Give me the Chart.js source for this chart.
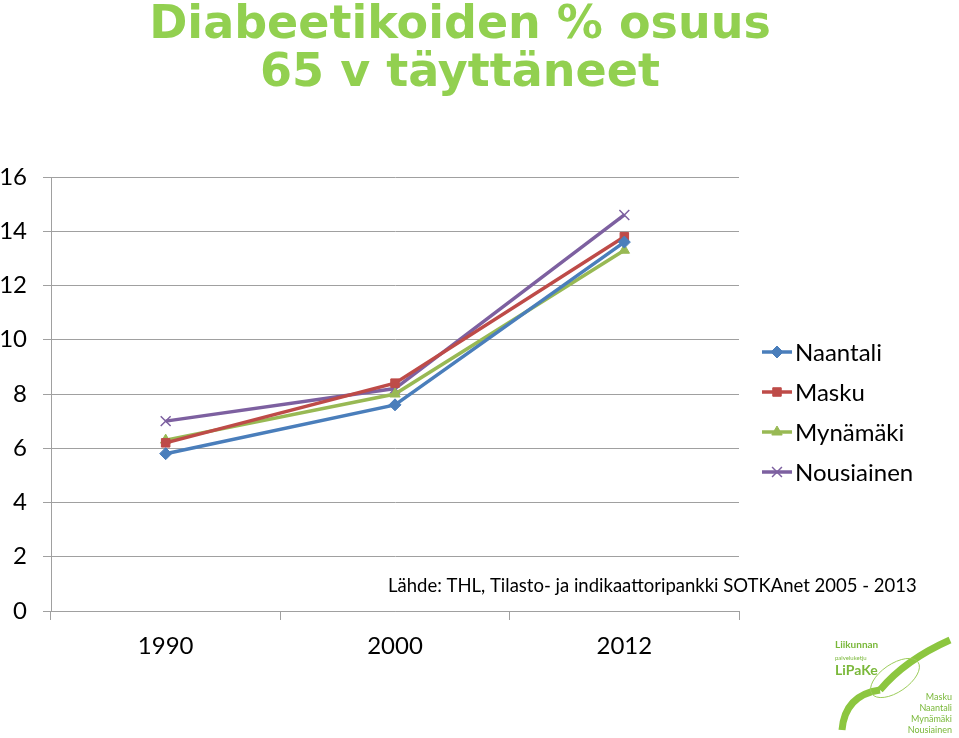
<!DOCTYPE html>
<html>
<head>
<meta charset="utf-8">
<script src="https://cdn.jsdelivr.net/npm/chart.js@4.4.0/dist/chart.umd.min.js"></script>
<style>
  html, body { margin: 0; padding: 0; background: #fff; }
  #wrap { width: 959px; height: 738px; }
</style>
</head>
<body>
<div id="wrap"><canvas id="kaavio"></canvas></div>
<script>
// vuodet ja kuntien arvot (%)
var vuodet = ['1990', '2000', '2012'];
var naantali = [5.8, 7.6, 13.6];
var masku = [6.2, 8.4, 13.8];
var mynamaki = [6.3, 8.0, 13.3];
var nousiainen = [7.0, 8.2, 14.6];
var yTicks = [0, 2, 4, 6, 8, 10, 12, 14, 16];

var otsikko = ['Diabeetikoiden % osuus', '65 v täyttäneet'];
var lahde = 'Lähde: THL, Tilasto- ja indikaattoripankki SOTKAnet 2005 - 2013';

var fontti = 'Lato, "Open Sans", sans-serif';

// oma selite: viiva + merkki kuten Excelissä, otsikko ja lähde
var selite = {
    id: 'selite',
    afterDraw: function (chart) {
        var c = chart.ctx;
        c.save();
        // otsikko koko kuvan keskelle
        c.fillStyle = '#92d050';
        c.font = 'bold 46px "DejaVu Sans"';
        c.textAlign = 'center';
        c.textBaseline = 'alphabetic';
        c.fillText(otsikko[0], 460, 38);
        c.fillText(otsikko[1], 460, 86);

        chart.data.datasets.forEach(function (ds, i) {
            var y = 352 + i * 40;
            c.strokeStyle = ds.borderColor;
            c.lineWidth = 3.5;
            c.beginPath();
            c.moveTo(762, y);
            c.lineTo(792, y);
            c.stroke();
            c.fillStyle = ds.backgroundColor;
            c.lineWidth = ds.pointStyle === 'crossRot' ? 1.5 : 1;
            Chart.helpers.drawPoint(c, { pointStyle: ds.pointStyle, radius: ds.pointRadius, borderWidth: 1 }, 777, y);
            c.fillStyle = '#000';
            c.font = '24px ' + fontti;
            c.textBaseline = 'middle';
            c.textAlign = 'left';
            c.fillText(ds.label, 795, y + 1);
        });
        // lähdeteksti
        c.font = '18.5px ' + fontti;
        c.fillStyle = '#000';
        c.textBaseline = 'middle';
        c.textAlign = 'left';
        c.fillText(lahde, 388, 586);
        // logo
        c.fillStyle = '#7ab83a';
        c.font = 'bold 10px ' + fontti;
        c.fillText('Liikunnan', 835, 645);
        c.font = '6px ' + fontti;
        c.fillText('palveluketju', 835, 658);
        c.font = 'bold 14px ' + fontti;
        c.fillText('LiPaKe', 835, 670);
        c.font = '9px ' + fontti;
        c.textAlign = 'right';
        c.fillText('Masku', 952, 697);
        c.fillText('Naantali', 952, 708);
        c.fillText('Mynämäki', 952, 719);
        c.fillText('Nousiainen', 952, 730);
        c.strokeStyle = '#8cc63f';
        c.lineWidth = 7;
        c.beginPath();
        c.moveTo(842, 730);
        c.quadraticCurveTo(845, 695, 880, 690);
        c.stroke();
        c.beginPath();
        c.moveTo(880, 690);
        c.quadraticCurveTo(905, 660, 950, 640);
        c.stroke();
        c.lineWidth = 1;
        c.strokeStyle = '#9ccc5a';
        c.beginPath();
        c.ellipse(895, 678, 28, 14, -0.6, 0, Math.PI * 2);
        c.stroke();
        c.restore();
    }
};

var ctx = document.getElementById('kaavio').getContext('2d');
var kaavio = new Chart(ctx, {
    type: 'line',
    data: {
        labels: vuodet,
        datasets: [{
            label: 'Naantali',
            data: naantali,
            borderColor: '#4a7ebb',
            backgroundColor: '#4a7ebb',
            pointStyle: 'rectRot',
            pointRadius: 6
        }, {
            label: 'Masku',
            data: masku,
            borderColor: '#be4b48',
            backgroundColor: '#be4b48',
            pointStyle: 'rect',
            pointRadius: 6
        }, {
            label: 'Mynämäki',
            data: mynamaki,
            borderColor: '#98b954',
            backgroundColor: '#98b954',
            pointStyle: 'triangle',
            pointRadius: 6
        }, {
            label: 'Nousiainen',
            data: nousiainen,
            borderColor: '#7d60a0',
            backgroundColor: '#7d60a0',
            pointStyle: 'crossRot',
            pointRadius: 7,
            pointBorderWidth: 1.5
        }]
    },
    options: {
        responsive: true,
        maintainAspectRatio: false,
        animation: false,
        elements: {
            line: { borderWidth: 3.5, tension: 0 },
            point: { borderWidth: 1 }
        },
        layout: { padding: { left: 0, right: 220, top: 177, bottom: 0 } },
        plugins: {
            legend: { display: false },
            tooltip: { enabled: false },
            title: { display: false }
        },
        scales: {
            x: {
                offset: true,
                grid: {
                    offset: true,
                    drawOnChartArea: false,
                    color: '#a0a0a0',
                    tickLength: 9
                },
                border: { color: '#a0a0a0' },
                ticks: {
                    color: '#000',
                    font: { family: fontti, size: 24 },
                    padding: 12
                },
                afterFit: function (s) { s.height = 127; }
            },
            y: {
                min: 0,
                max: 16,
                afterBuildTicks: function (s) {
                    s.ticks = yTicks.map(function (v) { return { value: v }; });
                },
                grid: { color: '#a0a0a0', tickLength: 8 },
                border: { color: '#a0a0a0' },
                ticks: {
                    color: '#000',
                    font: { family: fontti, size: 24 },
                    padding: 16
                },
                afterFit: function (s) { s.width = 51; }
            }
        }
    },
    plugins: [selite]
});
</script>
</body>
</html>
